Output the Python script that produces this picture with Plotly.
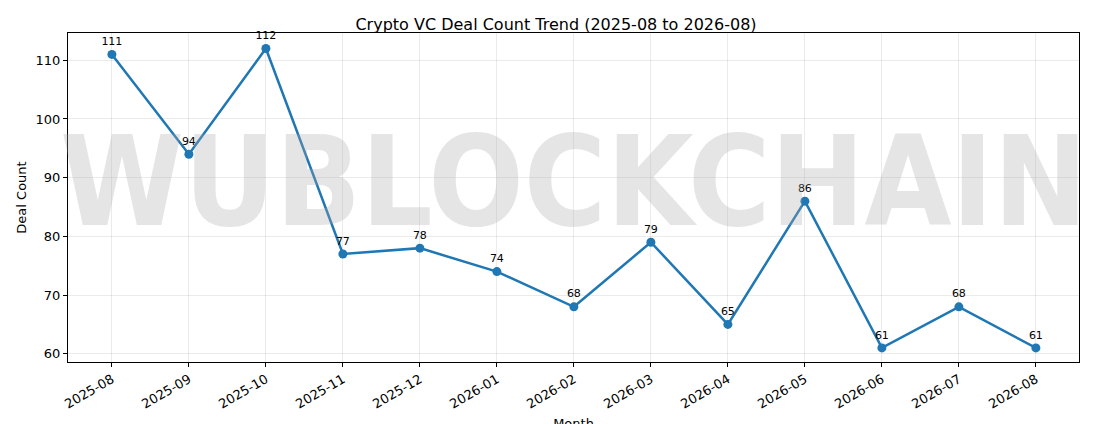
import plotly.graph_objects as go

months = ["2025-08", "2025-09", "2025-10", "2025-11", "2025-12", "2026-01", "2026-02",
          "2026-03", "2026-04", "2026-05", "2026-06", "2026-07", "2026-08"]
deal_counts = [111, 94, 112, 77, 78, 74, 68, 79, 65, 86, 61, 68, 61]

fig = go.Figure()
fig.add_trace(go.Scatter(
    x=list(range(len(months))), y=deal_counts,
    mode="lines+markers+text",
    line=dict(color="#1f77b4", width=2.5),
    marker=dict(color="#1f77b4", size=9),
    text=[str(v) for v in deal_counts],
    textposition="top center",
    textfont=dict(size=11, color="black"),
    cliponaxis=False,
))

# watermark
fig.add_annotation(text="<b>WUBLOCKCHAIN</b>", xref="paper", yref="paper",
                   x=0.5, y=0.55, showarrow=False,
                   font=dict(family="DejaVu Sans Condensed", size=125,
                             color="rgba(170,170,170,0.3)"))

axis_common = dict(showline=True, mirror=True, linecolor="black", linewidth=1,
                   showgrid=True, gridcolor="rgba(0,0,0,0.08)",
                   ticks="outside", ticklen=4, tickcolor="black",
                   tickfont=dict(size=13, color="black"), zeroline=False)

fig.update_layout(
    width=1096, height=424,
    paper_bgcolor="white", plot_bgcolor="white",
    margin=dict(l=50, r=25, t=25, b=70),
    font=dict(family="DejaVu Sans", color="black"),
    title=dict(text="Crypto VC Deal Count Trend (2025-08 to 2026-08)",
               x=0.5, xanchor="center", y=0.975, font=dict(size=16)),
    showlegend=False,
    xaxis=dict(axis_common, tickmode="array", tickvals=list(range(len(months))),
               ticktext=months, tickangle=-30, range=[-0.57, 12.56], automargin=False,
               title=dict(text="Month", font=dict(size=13), standoff=8)),
    yaxis=dict(axis_common, range=[58.6, 114.65], tickvals=[60, 70, 80, 90, 100, 110],
               title=dict(text="Deal Count", font=dict(size=13), standoff=6)),
)

fig.write_html("out.html")
